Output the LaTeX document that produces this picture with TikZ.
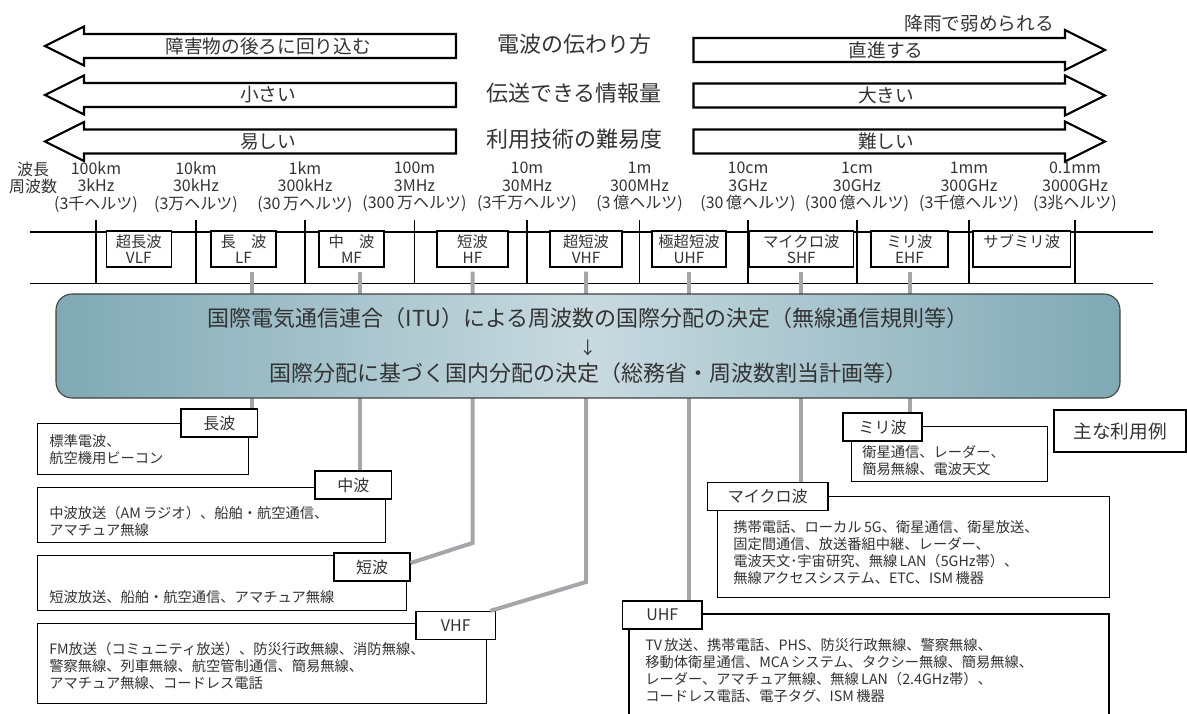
\documentclass[tikz,border=0pt]{standalone}
\usepackage{fontspec}
\setmainfont{Noto Sans CJK JP}
\definecolor{ituedge}{RGB}{127,169,180}
\definecolor{itumid}{RGB}{200,218,224}
\definecolor{feedgray}{RGB}{166,166,170}
\definecolor{inkgray}{RGB}{51,51,51}

\begin{document}
\begin{tikzpicture}[x=0.75pt, y=-0.75pt,
        every node/.style={text=inkgray},
        bigarrow/.style={draw, line width=1.6pt, fill=white},
        arrowtext/.style={font=\fontsize{14}{16}\selectfont},
        midtext/.style={font=\fontsize{16.5}{19}\selectfont},
        scaletext/.style={align=center, inner sep=0pt, font=\fontsize{12}{13.2}\selectfont},
        band/.style={draw, fill=white, line width=0.8pt, minimum height=27pt, inner sep=0pt, align=center, font=\fontsize{11.5}{12}\selectfont},
        feed/.style={draw=feedgray, line width=3pt},
        uselabel/.style={draw, fill=white, line width=0.8pt, minimum height=21pt, inner sep=0pt, font=\fontsize{12}{14}\selectfont},
        usebox/.style={draw, fill=white, line width=0.8pt, inner sep=0pt, anchor=north west},
        usetext/.style={align=left, inner sep=0pt, anchor=west, font=\fontsize{10.7}{12.75}\selectfont}]
    \useasboundingbox (0,0) rectangle (1187,713);

    \foreach \yl/\ym/\yr/\lt/\mt/\rt [count=\i] in {46/44.5/50/障害物の後ろに回り込む/電波の伝わり方/直進する, 95/93.5/95.5/小さい/伝送できる情報量/大きい, 141.5/139.5/141.5/易しい/利用技術の難易度/難しい} {
        \draw[bigarrow] (45,\yl) -- (84,\yl-19.5) -- (84,\yl-12) -- (456,\yl-12) -- (456,\yl+12) -- (84,\yl+12) -- (84,\yl+19.5) -- cycle;
        \draw[bigarrow] (693.5,\yr-12) -- (1065,\yr-12) -- (1065,\yr-20) -- (1105,\yr) -- (1065,\yr+20) -- (1065,\yr+12) -- (693.5,\yr+12) -- cycle;
        \node[arrowtext] (left\i) at (268,\yl) {\lt};
        \node[midtext] (mid\i) at (574,\ym) {\mt};
        \node[arrowtext] (right\i) at (886,\yr) {\rt};
    }
    \node[arrowtext] (rain) at (979,23.5) {降雨で弱められる};

    \node[scaletext] (axis) at (33,178) {波長\\周波数};
    \foreach \x/\wl/\fq/\jp [count=\i] in {96/100km/3kHz/(3千ヘルツ), 196/10km/30kHz/(3万ヘルツ), 305/1km/300kHz/(30\,万ヘルツ), 414.5/100m/3MHz/(300\,万ヘルツ), 527/10m/30MHz/(3千万ヘルツ), 639.5/1m/300MHz/(3\,億ヘルツ), 748/10cm/3GHz/(30\,億ヘルツ), 857/1cm/30GHz/(300\,億ヘルツ), 969/1mm/300GHz/(3千億ヘルツ), 1075/0.1mm/3000GHz/(3兆ヘルツ)} {
        \node[scaletext] (mark\i) at (\x,187) {\wl\\\fq\\\jp};
        \draw[line width=1.1pt] (\x,220) -- (\x,283.5);
    }
    \draw[line width=1.1pt] (30,232) -- (1153,232);
    \draw[line width=1.1pt] (30,283.5) -- (1153,283.5);

    \node[band, minimum width=49pt] (vlf) at (138.75,249) {超長波\\VLF};
    \node[band, minimum width=48.75pt] (lf) at (243.5,249) {長　波\\LF};
    \node[band, minimum width=48.75pt] (mf) at (351.5,249) {中　波\\MF};
    \node[band, minimum width=53.25pt] (hf) at (472.5,249) {短波\\HF};
    \node[band, minimum width=54pt] (vhf) at (586,249) {超短波\\VHF};
    \node[band, minimum width=55.5pt] (uhf) at (689,249) {極超短波\\UHF};
    \node[band, minimum width=78.4pt] (shf) at (801.25,249) {マイクロ波\\SHF};
    \node[band, minimum width=57.75pt] (ehf) at (909.5,249) {ミリ波\\EHF};
    \node[band, minimum width=73.2pt] (submm) at (1021.8,249) {サブミリ波\\\mbox{}};

    \node[usebox, minimum width=158.25pt, minimum height=38.25pt] (lwbox) at (37,423) {};
    \node[uselabel, minimum width=57.5pt] (lwlbl) at (219.3,423) {長波};
    \node[usetext] (lwtext) at (49,449.5) {標準電波、\\航空機用ビーコン};

    \node[usebox, minimum width=260.7pt, minimum height=41.25pt] (mwbox) at (37,487) {};
    \node[uselabel, minimum width=57.5pt] (mwlbl) at (353.3,485) {中波};
    \node[usetext] (mwtext) at (49,521) {中波放送（AM\,ラジオ）、船舶・航空通信、\\アマチュア無線};

    \node[usebox, minimum width=276.5pt, minimum height=41.25pt] (swbox) at (37,555) {};
    \node[uselabel, minimum width=57pt] (swlbl) at (372,567) {短波};
    \node[usetext] (swtext) at (49,597) {短波放送、船舶・航空通信、アマチュア無線};

    \node[usebox, minimum width=336.75pt, minimum height=60pt] (vhfbox) at (37,623) {};
    \node[uselabel, minimum width=59.7pt] (vhflbl) at (455.8,625.5) {VHF};
    \node[usetext] (vhftext) at (49,665.7) {FM放送（コミュニティ放送）、防災行政無線、消防無線、\\警察無線、列車無線、航空管制通信、簡易無線、\\アマチュア無線、コードレス電話};

    \node[usebox, minimum width=147pt, minimum height=41.25pt] (mmbox) at (851,426) {};
    \node[uselabel, minimum width=59.25pt] (mmlbl) at (882.5,427) {ミリ波};
    \node[usetext] (mmtext) at (862,460.5) {衛星通信、レーダー、\\簡易無線、電波天文};

    \node[usebox, minimum width=294pt, minimum height=75.75pt] (cmbox) at (717,496) {};
    \node[uselabel, minimum width=90.4pt] (cmlbl) at (767.75,496.5) {マイクロ波};
    \node[usetext] (cmtext) at (733,552.5) {携帯電話、ローカル\,5G、衛星通信、衛星放送、\\固定間通信、放送番組中継、レーダー、\\電波天文･宇宙研究、無線\,LAN（5GHz帯）、\\無線アクセスシステム、ETC、ISM\,機器};

    \draw[line width=0.8pt] (629,720) |- (1109,614) -- (1109,720);
    \node[uselabel, minimum width=59.6pt] (uhflbl) at (662.25,615) {UHF};
    \node[usetext] (uhftext) at (645,671) {TV\,放送、携帯電話、PHS、防災行政無線、警察無線、\\移動体衛星通信、MCA\,システム、タクシー無線、簡易無線、\\レーダー、アマチュア無線、無線\,LAN（2.4GHz帯）、\\コードレス電話、電子タグ、ISM\,機器};

    \node[draw, line width=1.5pt, minimum width=99pt, minimum height=31.5pt, font=\fontsize{14}{16}\selectfont] (legend) at (1120,431) {主な利用例};

    \path (lf.south) ++(8,0) coordinate (lfdrop);
    \path (mf.south) ++(8.5,0) coordinate (mfdrop);
    \coordinate (hfbend) at (474,543);
    \coordinate (vhfbend) at (584,582);
    \draw[feed] ([yshift=-3pt]lfdrop) -- (lfdrop |- lwlbl.north);
    \draw[feed] ([yshift=-3pt]mfdrop) -- (mfdrop |- mwlbl.north);
    \draw[feed] ([yshift=-3pt]hf.south) -- (hf.south |- hfbend) -- ([yshift=3pt]swlbl.east);
    \draw[feed] ([yshift=-3pt]vhf.south) -- (vhf.south |- vhfbend) -- ([xshift=-4.5pt]vhflbl.north east);
    \draw[feed] ([yshift=-3pt]uhf.south) -- (uhf.south |- uhflbl.north);
    \draw[feed] ([yshift=-3pt]shf.south) -- (shf.south |- cmlbl.north);
    \draw[feed] ([yshift=-3pt]ehf.south) -- (ehf.south |- mmlbl.north);

    \node[draw=black!75, line width=0.8pt, rounded corners=12pt, left color=ituedge, right color=ituedge, middle color=itumid, minimum width=798pt, minimum height=78pt, align=center, font=\fontsize{16.5}{20.6}\selectfont] (itu) at (588,346) {国際電気通信連合（ITU）による周波数の国際分配の決定（無線通信規則等）\\{\fontsize{13}{20.6}\selectfont ↓}\\国際分配に基づく国内分配の決定（総務省・周波数割当計画等）};
\end{tikzpicture}
\end{document}
